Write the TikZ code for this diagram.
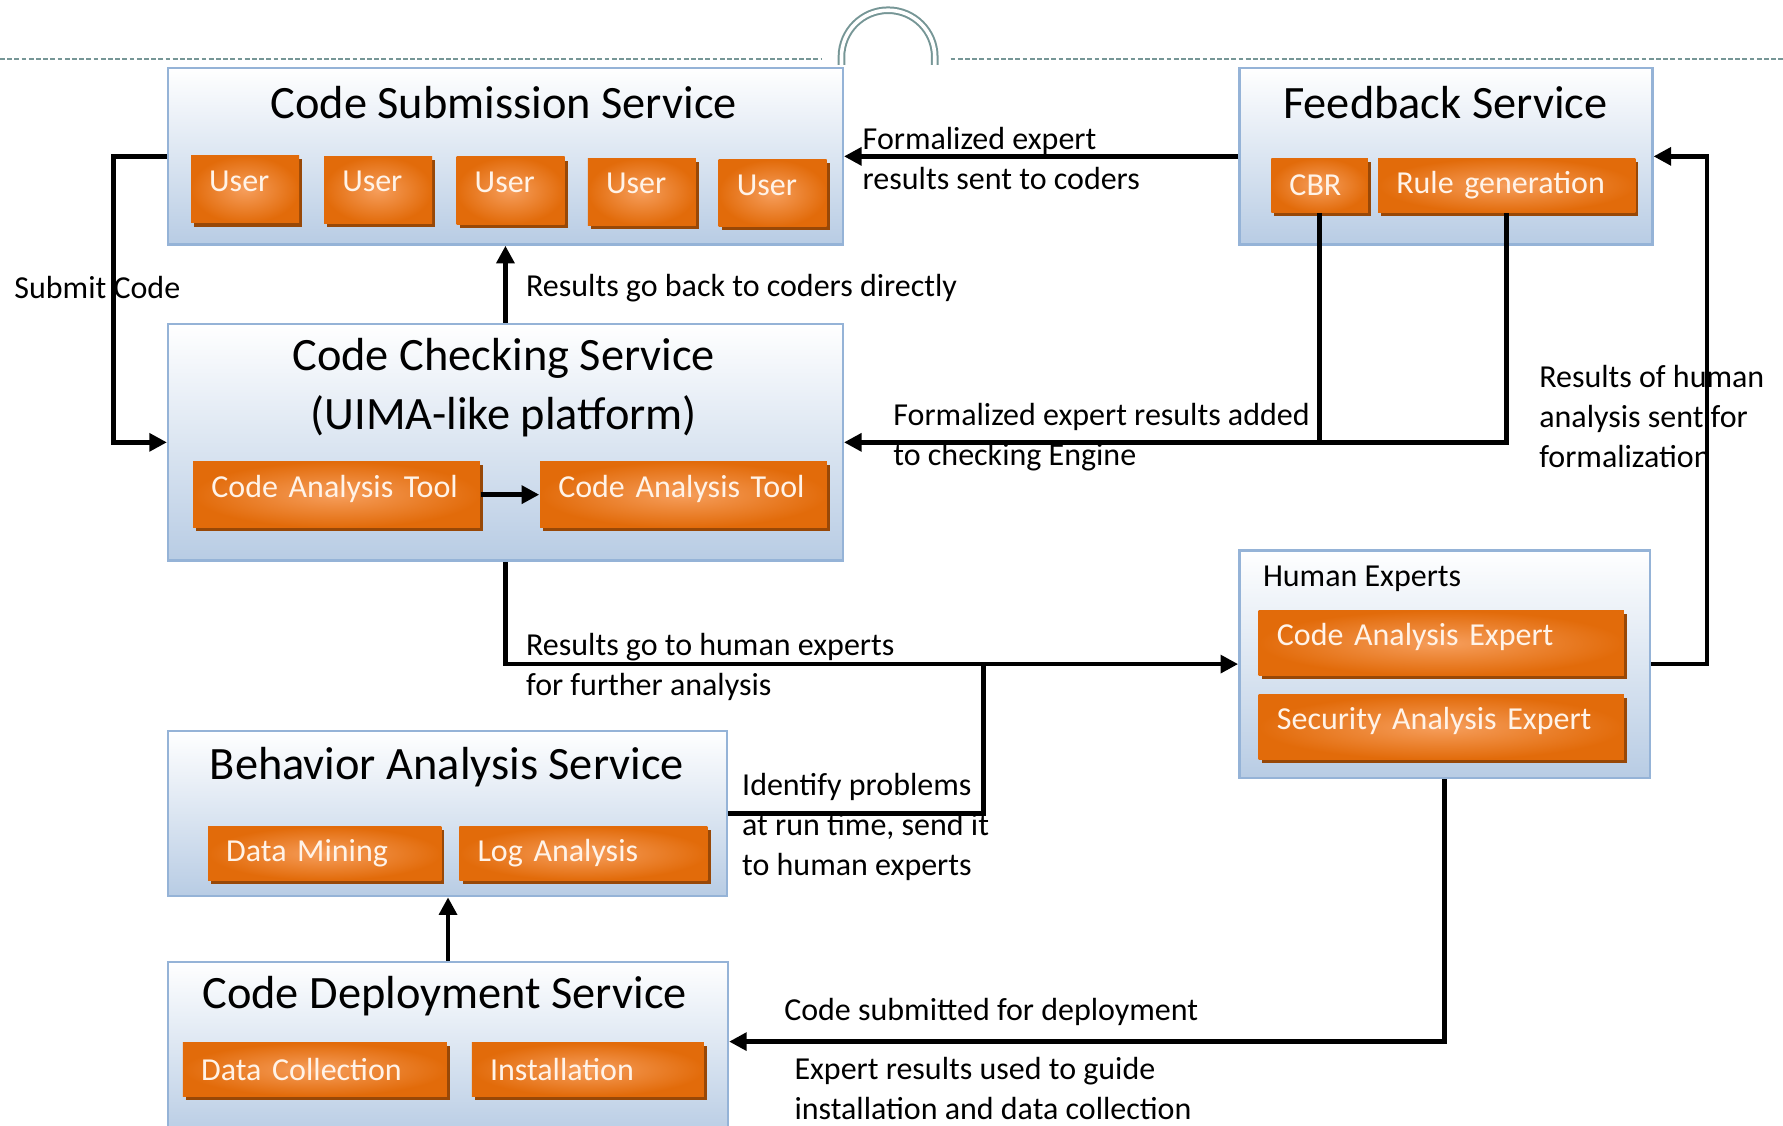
\documentclass[tikz,border=0pt]{standalone}
\usepackage{fontspec}
\setmainfont{Carlito}
\usepackage{tikz}
\usepackage{xcolor}
\usetikzlibrary{arrows.meta,shadows}

\definecolor{boxedge}{RGB}{149,179,215}
\definecolor{boxbottom}{RGB}{184,204,228}
\definecolor{toolouter}{RGB}{226,107,10}
\definecolor{toolinner}{RGB}{246,158,92}
\definecolor{toolshadow}{RGB}{152,72,7}
\definecolor{tooltext}{RGB}{255,243,232}
\definecolor{rulecolor}{RGB}{118,150,150}

\begin{document}
\begin{tikzpicture}[x=0.01cm,y=-0.01cm]
			\useasboundingbox (0,0) rectangle (1568,990);
			\clip (0,0) rectangle (1568,990);
			\tikzstyle{service}=[draw=boxedge,line width=0.6pt,top color=white,bottom color=boxbottom,inner sep=0pt]
			\tikzstyle{svctitle}=[font=\fontsize{11.6}{14.8}\selectfont,align=center,inner sep=0pt]
			\tikzstyle{tool}=[inner color=toolinner,outer color=toolouter,text=tooltext,font=\fontsize{8}{10}\selectfont,inner xsep=0.16cm,inner ysep=0pt,align=left,drop shadow={shadow xshift=0.8pt,shadow yshift=-0.9pt,opacity=1,fill=toolshadow}]
			\tikzstyle{lifted}=[text depth=0.15cm]
			\tikzstyle{note}=[font=\fontsize{8}{10}\selectfont,align=left,anchor=west,inner sep=0pt]
			\tikzstyle{link}=[line width=1.15pt]
			\tikzstyle{flow}=[line width=1.15pt,-{Triangle[length=4.4pt,width=4.4pt]}]
			% dashed header rule with the ring
			\draw[rulecolor,line width=0.4pt,dash pattern=on 1.2pt off 0.6pt] (0,52) -- (722,52);
			\draw[rulecolor,line width=0.4pt,dash pattern=on 1.2pt off 0.6pt] (836,52) -- (1568,52);
			\draw[rulecolor,line width=0.5pt,double=white,double distance=0.9pt] (740,57) -- (740,50) arc (180:0:0.41cm) -- (822,57);
			% services
			\node[service,minimum width=5.93cm,minimum height=1.55cm] (sub) at (444.5,137.5) {};
			\node[service,minimum width=3.63cm,minimum height=1.55cm] (fb) at (1271.5,137.5) {};
			\node[service,minimum width=5.93cm,minimum height=2.08cm] (chk) at (444.5,389) {};
			\node[service,minimum width=3.61cm,minimum height=2.00cm] (hum) at (1270.5,584) {};
			\node[service,minimum width=4.91cm,minimum height=1.45cm] (beh) at (393.5,715.5) {};
			\node[service,minimum width=4.92cm,minimum height=1.54cm] (dep) at (394,923) {};
			\node[svctitle] (subtitle) at (443,90) {Code Submission Service};
			\node[svctitle] (fbtitle) at (1271,90) {Feedback Service};
			\node[svctitle] (chktitle) at (443,341) {Code Checking Service\\(UIMA-like platform)};
			\node[svctitle] (behtitle) at (393,675) {Behavior Analysis Service};
			\node[svctitle] (deptitle) at (391,876) {Code Deployment Service};
			\node[note] (humtitle) at (1110,509) {Human Experts};
			% orange parts
			\node[tool,lifted,text width=0.63cm,minimum height=0.59cm] (user1) at (215.5,166.5) {User};
			\node[tool,lifted,text width=0.63cm,minimum height=0.59cm] (user2) at (332.5,167) {User};
			\node[tool,lifted,text width=0.63cm,minimum height=0.59cm] (user3) at (449,167.5) {User};
			\node[tool,lifted,text width=0.63cm,minimum height=0.59cm] (user4) at (564.5,168.5) {User};
			\node[tool,lifted,text width=0.63cm,minimum height=0.59cm] (user5) at (679.5,170) {User};
			\node[tool,text width=0.53cm,minimum height=0.48cm] (cbr) at (1160.5,163) {CBR};
			\node[tool,text width=1.94cm,minimum height=0.48cm] (rule) at (1325,163) {Rule generation};
			\node[tool,lifted,text width=2.20cm,minimum height=0.58cm] (tool1) at (296,435) {Code Analysis Tool};
			\node[tool,lifted,text width=2.20cm,minimum height=0.58cm] (tool2) at (601,435) {Code Analysis Tool};
			\node[tool,lifted,text width=2.89cm,minimum height=0.57cm] (codeexp) at (1267.5,565.5) {Code Analysis Expert};
			\node[tool,lifted,text width=2.89cm,minimum height=0.57cm] (secexp) at (1267.5,639.5) {Security Analysis Expert};
			\node[tool,text width=1.73cm,minimum height=0.47cm] (mining) at (285.5,750.5) {Data Mining};
			\node[tool,text width=1.86cm,minimum height=0.47cm] (logs) at (513,750.5) {Log Analysis};
			\node[tool,text width=2.00cm,minimum height=0.47cm] (collect) at (277,940.5) {Data Collection};
			\node[tool,text width=1.72cm,minimum height=0.47cm] (install) at (517,940.5) {Installation};
			% labels on the connectors
			\node[note] (submitlbl) at (12,253) {Submit Code};
			\node[note] (sentlbl) at (758,139.5) {Formalized expert\\results sent to coders};
			\node[note] (backlbl) at (462,253) {Results go back to coders directly};
			\node[note] (addedlbl) at (785,384) {Formalized expert results added\\to checking Engine};
			\node[note] (formlbl) at (1353,366.5) {Results of human\\analysis sent for\\formalization};
			\node[note] (furtherlbl) at (462,586.5) {Results go to human experts\\for further analysis};
			\node[note] (runtimelbl) at (652,727.5) {Identify problems\\at run time, send it\\to human experts};
			\node[note] (deploylbl) at (689,890) {Code submitted for deployment};
			\node[note] (guidelbl) at (698,957) {Expert results used to guide\\installation and data collection};
			% connectors
			\coordinate (merge) at (865,584);
			\draw[flow] (sub.west) -- ++(-47,0) |- (chk.west);
			\draw[flow] (chk.north) -- (sub.south);
			\draw[flow] (fb.west) -- (sub.east);
			\draw[link] (cbr.south) -- (cbr.south |- chk.east);
			\draw[flow] (rule.south) |- (chk.east);
			\draw[flow] (hum.east) -- ++(49,0) |- (fb.east);
			\draw[flow] (chk.south) |- (hum.west);
			\draw[link] (beh.east) -| (merge);
			\draw[flow] (dep.north) -- (dep.north |- beh.south);
			\draw[flow] (hum.south) |- ([yshift=0.07cm]dep.east);
			\draw[flow] (tool1.east) -- (tool2.west);
		\end{tikzpicture}
\end{document}
